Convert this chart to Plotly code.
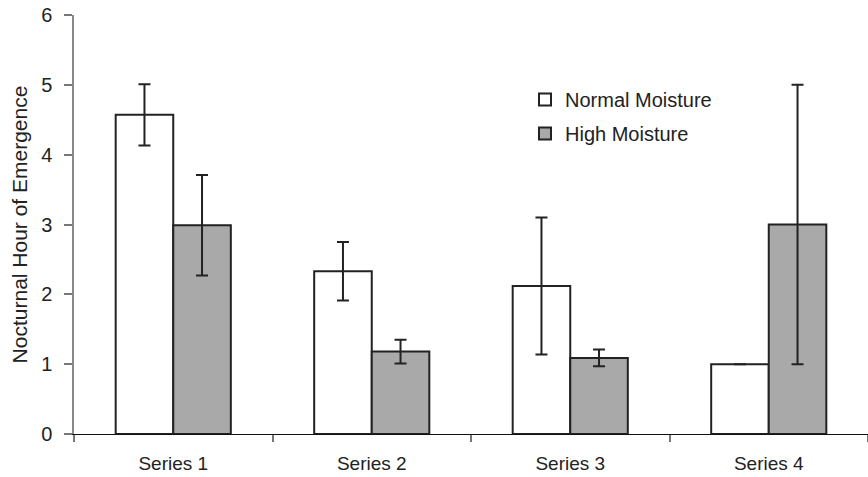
import plotly.graph_objects as go

categories = ["Series 1", "Series 2", "Series 3", "Series 4"]
normal_values = [4.57, 2.33, 2.12, 1.0]
normal_errors = [0.44, 0.42, 0.98, 0.0]
high_values = [2.99, 1.18, 1.09, 3.0]
high_errors = [0.72, 0.17, 0.12, 2.0]
series_names = ["Normal Moisture", "High Moisture"]
y_ticks = [0, 1, 2, 3, 4, 5, 6]

FONT = "Liberation Sans, Arial, Helvetica, sans-serif"
EDGE = "#222222"

fig = go.Figure()
fig.add_trace(go.Bar(
    x=categories, y=normal_values, name=series_names[0], legendgroup="a",
    marker=dict(color="#ffffff", line=dict(color=EDGE, width=2)),
    error_y=dict(type="data", array=normal_errors, visible=True,
                 color=EDGE, thickness=2, width=6),
))
fig.add_trace(go.Bar(
    x=categories, y=high_values, name=series_names[1], legendgroup="b",
    marker=dict(color="#a8a9a8", line=dict(color=EDGE, width=2)),
    error_y=dict(type="data", array=high_errors, visible=True,
                 color=EDGE, thickness=2, width=6),
))

fig.update_layout(
    width=868, height=477,
    margin=dict(l=74, r=0, t=15, b=43),
    paper_bgcolor="white", plot_bgcolor="white",
    barmode="group", bargap=0.42, bargroupgap=0,
    font=dict(family=FONT, size=19, color="#222222"),
    showlegend=True,
    legend=dict(x=0.568, y=0.845, xanchor="left", yanchor="top",
                bgcolor="rgba(0,0,0,0)", font=dict(size=20),
                traceorder="grouped", tracegroupgap=5),
    xaxis=dict(
        showline=True, linecolor="#111111", linewidth=1.2,
        ticks="outside", tickson="boundaries", ticklen=7,
        tickcolor="#777777", tickwidth=1.5,
        showgrid=False, ticklabelstandoff=12,
        tickfont=dict(size=19),
    ),
    yaxis=dict(
        range=[0, 6], tickvals=y_ticks,
        showline=True, linecolor="#888888", linewidth=1.5,
        ticks="outside", ticklen=8, tickcolor="#777777", tickwidth=1.5,
        showgrid=False, zeroline=False, ticklabelstandoff=8,
        tickfont=dict(size=20),
        title=dict(text="Nocturnal Hour of Emergence", font=dict(size=21),
                   standoff=8),
    ),
)

fig.write_html("out.html")
